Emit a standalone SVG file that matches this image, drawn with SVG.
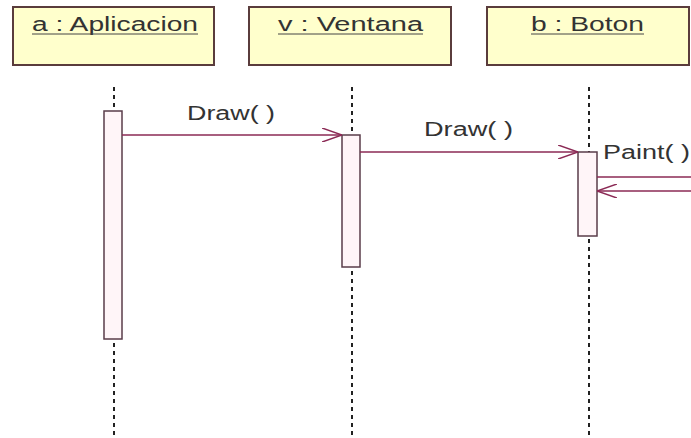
<svg xmlns="http://www.w3.org/2000/svg" width="691" height="438" viewBox="0 0 691 438">
<style>
.obj{fill:#ffffcc;stroke:#5a3c3c;stroke-width:2}
.lbl{font-family:"Liberation Sans",Arial,sans-serif;font-size:20px;fill:#333}
.ul{stroke:#444;stroke-width:1}
.life{stroke:#222;stroke-width:2;stroke-dasharray:4 4;fill:none}
.act{fill:#fff5f8;stroke:#5a3c4a;stroke-width:1.5}
.msg{stroke:#8b2a55;stroke-width:1.5;fill:none}
</style>
<defs>
<marker id="open" viewBox="0 0 20 14" refX="20" refY="7" markerWidth="20" markerHeight="14" markerUnits="userSpaceOnUse" orient="auto">
<path d="M0,0 L20,7 L0,14" fill="none" stroke="#8b2a55" stroke-width="1.5"/>
</marker>
</defs>
<rect width="691" height="438" fill="#fff"/>
<g id="lifelines">
<line class="life" x1="114" y1="87" x2="114" y2="435"/>
<line class="life" x1="352" y1="87" x2="352" y2="435"/>
<line class="life" x1="589" y1="87" x2="589" y2="435"/>
</g>
<g id="node-aplicacion">
<rect class="obj" x="13" y="7" width="201" height="58"/>
<text class="lbl" x="32" y="31" textLength="166" lengthAdjust="spacingAndGlyphs">a : Aplicacion</text>
<line class="ul" x1="32" y1="34" x2="198" y2="34"/>
</g>
<g id="node-ventana">
<rect class="obj" x="249" y="7" width="202" height="58"/>
<text class="lbl" x="278" y="31" textLength="145" lengthAdjust="spacingAndGlyphs">v : Ventana</text>
<line class="ul" x1="278" y1="34" x2="423" y2="34"/>
</g>
<g id="node-boton">
<rect class="obj" x="487" y="7" width="202" height="58"/>
<text class="lbl" x="531" y="31" textLength="113" lengthAdjust="spacingAndGlyphs">b : Boton</text>
<line class="ul" x1="531" y1="34" x2="644" y2="34"/>
</g>
<g id="activations">
<rect class="act" x="104" y="111" width="18" height="228"/>
<rect class="act" x="342" y="135" width="18" height="132"/>
<rect class="act" x="578" y="152" width="19" height="84"/>
</g>
<g id="connectors">
<line class="msg" x1="122" y1="135" x2="342" y2="135" marker-end="url(#open)"/>
<line class="msg" x1="360" y1="152" x2="578" y2="152" marker-end="url(#open)"/>
<line class="msg" x1="597" y1="177" x2="691" y2="177"/>
<line class="msg" x1="691" y1="191" x2="597" y2="191" marker-end="url(#open)"/>
</g>
<g id="labels">
<text class="lbl" x="187" y="120" textLength="88" lengthAdjust="spacingAndGlyphs">Draw( )</text>
<text class="lbl" x="424" y="136" textLength="89" lengthAdjust="spacingAndGlyphs">Draw( )</text>
<text class="lbl" x="603" y="159" textLength="87" lengthAdjust="spacingAndGlyphs">Paint( )</text>
</g>
</svg>
